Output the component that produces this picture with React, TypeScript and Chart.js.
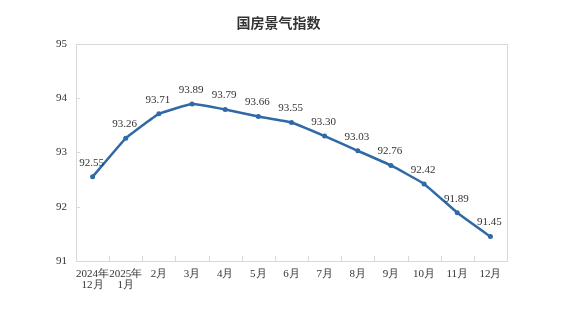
import React, { useEffect, useRef } from "react";
import { Chart, registerables } from "chart.js";

Chart.register(...registerables);

const categories: (string | string[])[] = [
  ["2024年", "12月"],
  ["2025年", "1月"],
  "2月",
  "3月",
  "4月",
  "5月",
  "6月",
  "7月",
  "8月",
  "9月",
  "10月",
  "11月",
  "12月",
];
const indexValues = [92.55, 93.26, 93.71, 93.89, 93.79, 93.66, 93.55, 93.3, 93.03, 92.76, 92.42, 91.89, 91.45];
const yTicks = [91, 92, 93, 94, 95];

const SERIF = "'Liberation Serif', 'Times New Roman', serif";
const LINE = "#2f69a6";

const framePlugin = {
  id: "frame",
  beforeDatasetsDraw(chart: any) {
    const { ctx, chartArea } = chart;
    const { left, right, top, bottom } = chartArea;
    ctx.save();
    ctx.strokeStyle = "#d9d9d9";
    ctx.lineWidth = 1;
    ctx.strokeRect(Math.round(left) + 0.5, Math.round(top) + 0.5, Math.round(right - left), Math.round(bottom - top));
    const xs = chart.scales.x;
    const ys = chart.scales.y;
    ctx.beginPath();
    for (let i = 1; i < categories.length; i++) {
      const x = Math.round((xs.getPixelForValue(i - 1) + xs.getPixelForValue(i)) / 2) + 0.5;
      ctx.moveTo(x, bottom);
      ctx.lineTo(x, bottom - 5);
    }
    yTicks.forEach((v) => {
      const y = Math.round(ys.getPixelForValue(v)) + 0.5;
      ctx.moveTo(left, y);
      ctx.lineTo(left + 4, y);
    });
    ctx.stroke();
    ctx.restore();
  },
  afterDatasetsDraw(chart: any) {
    const { ctx } = chart;
    const meta = chart.getDatasetMeta(0);
    ctx.save();
    ctx.font = `11px ${SERIF}`;
    ctx.fillStyle = "#333";
    ctx.textAlign = "center";
    ctx.textBaseline = "middle";
    meta.data.forEach((pt: any, i: number) => {
      ctx.fillText(indexValues[i].toFixed(2), pt.x - 1, pt.y - 14);
    });
    ctx.restore();
  },
};

export default function App() {
  const ref = useRef<HTMLCanvasElement>(null);
  useEffect(() => {
    document.body.style.margin = "0";
    const chart = new Chart(ref.current!, {
      type: "line",
      data: {
        labels: categories,
        datasets: [
          {
            data: indexValues,
            borderColor: LINE,
            backgroundColor: LINE,
            borderWidth: 2.5,
            pointRadius: 2.5,
            pointBackgroundColor: LINE,
            pointBorderWidth: 0,
            tension: 0.1,
          },
        ],
      },
      options: {
        animation: false,
        responsive: false,
        layout: { padding: { left: 50, right: 76, top: 0, bottom: 13 } },
        plugins: {
          legend: { display: false },
          tooltip: { enabled: false },
          title: {
            display: true,
            text: "国房景气指数",
            color: "#333",
            font: { family: "'Noto Sans CJK SC', sans-serif", size: 14, weight: "bold" },
            padding: { top: 14, bottom: 13 },
          },
        },
        scales: {
          x: {
            offset: true,
            grid: { display: false, drawTicks: false },
            border: { display: false },
            ticks: {
              color: "#333",
              font: { family: SERIF, size: 11, lineHeight: 1.0 },
              padding: 8,
              maxRotation: 0,
              autoSkip: false,
            },
          },
          y: {
            min: 91,
            max: 95,
            afterFit(scale: any) {
              scale.width = 26;
            },
            afterBuildTicks(scale: any) {
              scale.ticks = yTicks.map((v) => ({ value: v }));
            },
            grid: { display: false, drawTicks: false },
            border: { display: false },
            ticks: {
              color: "#333",
              font: { family: SERIF, size: 11 },
              padding: 9,
            },
          },
        },
      },
      plugins: [framePlugin],
    });
    return () => chart.destroy();
  }, []);
  return (
    <div style={{ width: 583, height: 312 }}>
      <canvas ref={ref} width={583} height={312} />
    </div>
  );
}
